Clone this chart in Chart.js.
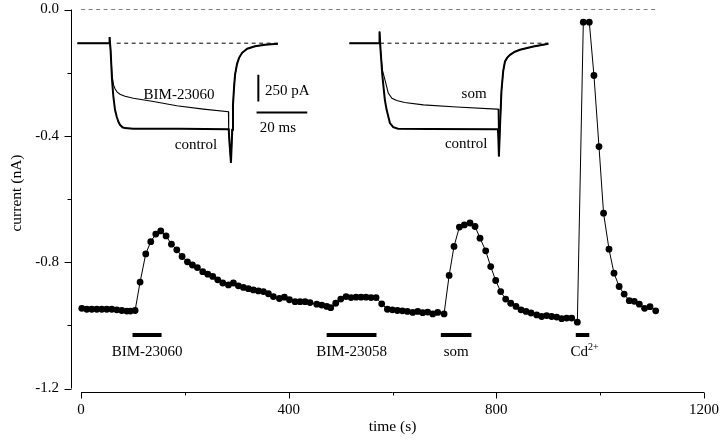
<!DOCTYPE html>
<html><head><meta charset="utf-8">
<script src="https://cdn.jsdelivr.net/npm/chart.js@4.4.1/dist/chart.umd.min.js"></script>
<style>html,body{margin:0;padding:0;background:#fff}#wrap{width:720px;height:441px}</style>
</head><body><div id="wrap"><canvas id="c" width="720" height="441"></canvas></div>
<script>
// ---- main time course (s, nA) ----
const timeS = [1.3,10.9,20.5,30.2,39.8,49.4,59.0,68.7,78.3,87.9,95.0,104.0,
113.6,124.5,134.2,143.8,153.4,163.7,174.0,184.3,194.5,204.8,
214.4,224.0,234.3,244.0,253.6,263.2,272.9,283.8,293.4,303.0,
312.7,322.3,331.9,341.6,351.2,360.8,370.4,382.0,391.6,401.3,
412.2,421.8,431.4,441.0,454.0,463.6,473.2,480.9,490.5,500.2,
510.4,520.0,529.7,539.3,548.9,558.6,568.2,579.1,590.0,599.6,
609.3,618.9,628.5,638.8,648.5,658.1,667.7,677.4,687.0,699.2,
709.0,718.4,728.7,738.3,749.2,758.9,768.5,779.4,789.1,798.7,
808.3,817.9,827.6,837.8,847.5,857.1,866.7,877.7,887.3,896.9,
906.5,916.2,925.8,935.4,945.1,956.0,967.5,979.0,988.0,997.7,
1006.5,1017.0,1026.6,1036.5,1046.2,1056.0,1065.7,1075.4,1085.5,1096.0,1107.0];
const currentNA = [-0.946,-0.949,-0.949,-0.949,-0.949,-0.949,-0.949,-0.951,-0.953,-0.955,-0.955,-0.953,
-0.863,-0.774,-0.735,-0.711,-0.701,-0.717,-0.743,-0.761,-0.782,-0.799,
-0.809,-0.817,-0.830,-0.838,-0.845,-0.856,-0.866,-0.872,-0.866,-0.875,
-0.880,-0.884,-0.888,-0.891,-0.893,-0.900,-0.909,-0.915,-0.911,-0.919,
-0.925,-0.925,-0.925,-0.928,-0.933,-0.936,-0.940,-0.944,-0.930,-0.917,
-0.909,-0.912,-0.911,-0.911,-0.911,-0.912,-0.912,-0.932,-0.949,-0.951,
-0.953,-0.954,-0.956,-0.959,-0.956,-0.960,-0.958,-0.964,-0.959,-0.964,
-0.842,-0.750,-0.689,-0.682,-0.676,-0.687,-0.724,-0.764,-0.814,-0.858,
-0.893,-0.917,-0.930,-0.940,-0.951,-0.956,-0.961,-0.967,-0.972,-0.969,
-0.972,-0.974,-0.979,-0.977,-0.977,-0.990,-0.040,-0.040,-0.209,-0.434,
-0.645,-0.759,-0.835,-0.877,-0.901,-0.922,-0.924,-0.933,-0.946,-0.941,-0.954];
const zeroLineS = [0, 1107];

// ---- ticks ----
const xTicks = [0, 400, 800, 1200];
const xMinorTicks = [200, 600, 1000];
const yTicks = [0, -0.4, -0.8, -1.2];
const yMinorTicks = [-0.2, -0.6, -1.0];

// ---- drug applications (s) ----
const drugLabels = ['BIM-23060', 'BIM-23058', 'som', 'Cd'];
const drugStartS = [99, 473, 693, 953];
const drugEndS = [155, 569, 752, 979];

// ---- inset 1 (ms, pA) ----
const in1ControlMs = [-12.6,-0.1,0.1,0.5,1.07,1.6,2.25,2.9,3.6,4.2,5.2,6.2,9.5,27.9,47.1,47.5,48.0,48.5,48.8,49.2,49.6,50.4,51.2,52.4,54.4,57.5,61.4,66.5];
const in1ControlPA = [0,0,57,-62,-343,-499,-624,-686,-736,-764,-787,-795,-801,-801,-806,-960,-1120,-811,-577,-418,-296,-193,-137,-90,-52,-29,-15,-6];
const in1DrugMs = [-12.6,-0.1,0.1,0.5,1.07,1.66,2.25,3.04,4.2,6.2,9.5,17.4,26.6,37.1,47.0,47.1,47.5,48.0,48.5,48.8,49.2,49.6,50.4,51.2,52.4,54.4,57.5,61.4,66.5];
const in1DrugPA = [0,0,57,-62,-296,-390,-427,-455,-478,-497,-516,-546,-586,-617,-642,-806,-960,-1120,-811,-577,-418,-296,-193,-137,-90,-52,-29,-15,-6];
const in1DashMs = [2.9, 66.5];
const scaleBarVMs = [58.8, 58.8], scaleBarVPA = [-296, -546];
const scaleBarHMs = [58.1, 78.1], scaleBarHPA = [-649, -649];

// ---- inset 2 (ms, pA) ----
const in2ControlMs = [-11.8,-0.1,0.1,0.5,1.2,2.2,2.9,4.2,5.5,7.4,20,46.8,47.0,47.2,47.6,48.2,48.9,49.6,50.5,51.6,53.5,55.5,60.8,66.7];
const in2ControlPA = [0,0,110,-62,-300,-530,-624,-748,-786,-801,-803,-806,-900,-1061,-800,-450,-260,-171,-135,-109,-80,-62,-31,-6];
const in2SomMs = [-11.8,-0.1,0.1,0.5,1.2,2.25,3.55,5.0,6.86,10,17.4,30.5,46.3,46.9,47.2,47.6,48.2,48.9,49.6,50.5,51.6,53.5,55.5,60.8,66.7];
const in2SomPA = [0,0,110,-62,-250,-343,-467,-515,-537,-555,-577,-598,-617,-617,-1061,-800,-450,-260,-171,-135,-109,-80,-62,-31,-6];
const in2DashMs = [0.3, 66.7];

// ---- layout relations (inset axes placed on the main axes) ----
const X_MIN = -19.5, X_MAX = 1200, Y_MIN = -1.2, Y_MAX = 0;
const MS_TO_S = 4.883;               // 1 ms of inset = 4.883 s of main axis
const INSET1_ANCHOR_S = 54.3, INSET2_ANCHOR_S = 574.4;
const INSET_V0 = -0.1067, NA_PER_PA = 0.0003382;
const FONT = '"Liberation Serif", "Times New Roman", serif';

const pts = (xs, ys) => xs.map((v, i) => ({x: v, y: ys[i]}));
const flat = (xs, v) => xs.map(x => ({x, y: v}));

function lineDs(data, opts) {
  return Object.assign({data, showLine: true, borderColor: '#000', backgroundColor: '#000',
    borderWidth: 1, pointRadius: 0, fill: false, tension: 0, borderCapStyle: 'butt'}, opts);
}

const datasets = [
  lineDs(flat(zeroLineS, 0), {borderDash: [4, 3.5], borderWidth: 1.2}),
  lineDs(pts(timeS, currentNA), {pointRadius: 3.4, pointBorderWidth: 0, pointBackgroundColor: '#000', borderWidth: 1}),
];
drugStartS.forEach((s, i) => datasets.push(lineDs(flat([s, drugEndS[i]], -1.031), {borderWidth: 4})));
datasets.push(lineDs(flat(in1DashMs, 0), {xAxisID: 'xi1', yAxisID: 'yi', borderDash: [4, 3.5]}));
datasets.push(lineDs(pts(in1DrugMs, in1DrugPA), {xAxisID: 'xi1', yAxisID: 'yi', borderWidth: 1.1}));
datasets.push(lineDs(pts(in1ControlMs, in1ControlPA), {xAxisID: 'xi1', yAxisID: 'yi', borderWidth: 2}));
datasets.push(lineDs(pts(scaleBarVMs, scaleBarVPA), {xAxisID: 'xi1', yAxisID: 'yi', borderWidth: 2}));
datasets.push(lineDs(pts(scaleBarHMs, scaleBarHPA), {xAxisID: 'xi1', yAxisID: 'yi', borderWidth: 2}));
datasets.push(lineDs(flat(in2DashMs, 0), {xAxisID: 'xi2', yAxisID: 'yi', borderDash: [4, 3.5]}));
datasets.push(lineDs(pts(in2SomMs, in2SomPA), {xAxisID: 'xi2', yAxisID: 'yi', borderWidth: 1.1}));
datasets.push(lineDs(pts(in2ControlMs, in2ControlPA), {xAxisID: 'xi2', yAxisID: 'yi', borderWidth: 2}));

const insetText = [
  {t: 'BIM-23060', ax: 'xi1', ms: 27.5, pA: -483, align: 'center'},
  {t: 'control', ax: 'xi1', ms: 34.2, pA: -951, align: 'center'},
  {t: '250 pA', ax: 'xi1', ms: 61.4, pA: -452, align: 'left'},
  {t: '20 ms', ax: 'xi1', ms: 59.4, pA: -795, align: 'left'},
  {t: 'som', ax: 'xi2', ms: 37.4, pA: -474, align: 'center'},
  {t: 'control', ax: 'xi2', ms: 34.3, pA: -942, align: 'center'},
];

const decor = {
  id: 'decor',
  afterDraw(chart) {
    const {ctx, scales} = chart;
    const x = scales.x, y = scales.y, yi = scales.yi;
    ctx.save();
    ctx.strokeStyle = '#000'; ctx.fillStyle = '#000'; ctx.lineWidth = 1;
    // y axis
    const ax = Math.round(x.left) + 0.5;
    ctx.beginPath();
    ctx.moveTo(ax, y.getPixelForValue(Y_MAX)); ctx.lineTo(ax, y.getPixelForValue(Y_MIN));
    yTicks.forEach(v => { const p = Math.round(y.getPixelForValue(v)) + 0.5; ctx.moveTo(ax, p); ctx.lineTo(ax - 7, p); });
    yMinorTicks.forEach(v => { const p = Math.round(y.getPixelForValue(v)) + 0.5; ctx.moveTo(ax, p); ctx.lineTo(ax - 4, p); });
    // x axis (offset below plot)
    const ay = Math.round(y.getPixelForValue(Y_MIN)) + 3.5;
    ctx.moveTo(x.getPixelForValue(0), ay); ctx.lineTo(x.getPixelForValue(1200), ay);
    xTicks.forEach(v => { const p = Math.round(x.getPixelForValue(v)) + 0.5; ctx.moveTo(p, ay); ctx.lineTo(p, ay + 6); });
    xMinorTicks.forEach(v => { const p = Math.round(x.getPixelForValue(v)) + 0.5; ctx.moveTo(p, ay); ctx.lineTo(p, ay + 3); });
    ctx.stroke();

    // axis titles
    ctx.textBaseline = 'middle'; ctx.textAlign = 'center';
    ctx.font = '15.5px ' + FONT;
    ctx.fillText('time (s)', x.getPixelForValue(600), 427);
    ctx.save(); ctx.translate(17, 193); ctx.rotate(-Math.PI / 2); ctx.fillText('current (nA)', 0, 0); ctx.restore();

    // drug labels
    ctx.font = '15px ' + FONT;
    drugLabels.forEach((lab, i) => {
      const cx = x.getPixelForValue((drugStartS[i] + drugEndS[i]) / 2);
      const cy = y.getPixelForValue(-1.084);
      if (lab === 'Cd') {
        ctx.font = '15px ' + FONT; const w1 = ctx.measureText('Cd').width;
        ctx.font = '10px ' + FONT; const w2 = ctx.measureText('2+').width;
        const x0 = cx + 2 - (w1 + w2) / 2;
        ctx.textAlign = 'left';
        ctx.font = '15px ' + FONT; ctx.fillText('Cd', x0, cy);
        ctx.font = '10px ' + FONT; ctx.fillText('2+', x0 + w1, cy - 4);
        ctx.textAlign = 'center'; ctx.font = '15px ' + FONT;
      } else {
        ctx.fillText(lab, cx, cy);
      }
    });
    // inset labels
    insetText.forEach(o => {
      ctx.textAlign = o.align;
      ctx.fillText(o.t, scales[o.ax].getPixelForValue(o.ms), yi.getPixelForValue(o.pA));
    });
    ctx.restore();
  }
};

new Chart(document.getElementById('c'), {
  type: 'scatter',
  data: {datasets},
  options: {
    responsive: false, animation: false, devicePixelRatio: 1,
    layout: {padding: {top: 9.5, right: 16, left: 0, bottom: 0}},
    plugins: {legend: {display: false}, tooltip: {enabled: false}},
    scales: {
      x: {type: 'linear', min: X_MIN, max: X_MAX,
        afterBuildTicks: s => { s.ticks = xTicks.map(v => ({value: v})); },
        afterFit: s => { s.height = 52.5; s.paddingLeft = 0; s.paddingRight = 0; },
        grid: {display: false, drawTicks: false}, border: {display: false},
        ticks: {autoSkip: false, maxRotation: 0, padding: 12.3, color: '#000', font: {family: FONT, size: 15}, callback: v => String(v)}},
      y: {type: 'linear', min: Y_MIN, max: Y_MAX,
        afterBuildTicks: s => { s.ticks = yTicks.map(v => ({value: v})); },
        afterFit: s => { s.width = 71; s.paddingTop = 0; s.paddingBottom = 0; },
        grid: {display: false, drawTicks: false}, border: {display: false},
        ticks: {padding: 12, color: '#000', font: {family: FONT, size: 15}, callback: v => Number(v).toFixed(1)}},
      xi1: {type: 'linear', display: false, min: (X_MIN - INSET1_ANCHOR_S) / MS_TO_S, max: (X_MAX - INSET1_ANCHOR_S) / MS_TO_S},
      xi2: {type: 'linear', display: false, min: (X_MIN - INSET2_ANCHOR_S) / MS_TO_S, max: (X_MAX - INSET2_ANCHOR_S) / MS_TO_S},
      yi: {type: 'linear', display: false, min: (Y_MIN - INSET_V0) / NA_PER_PA, max: (Y_MAX - INSET_V0) / NA_PER_PA}
    }
  },
  plugins: [decor]
});
</script></body></html>
